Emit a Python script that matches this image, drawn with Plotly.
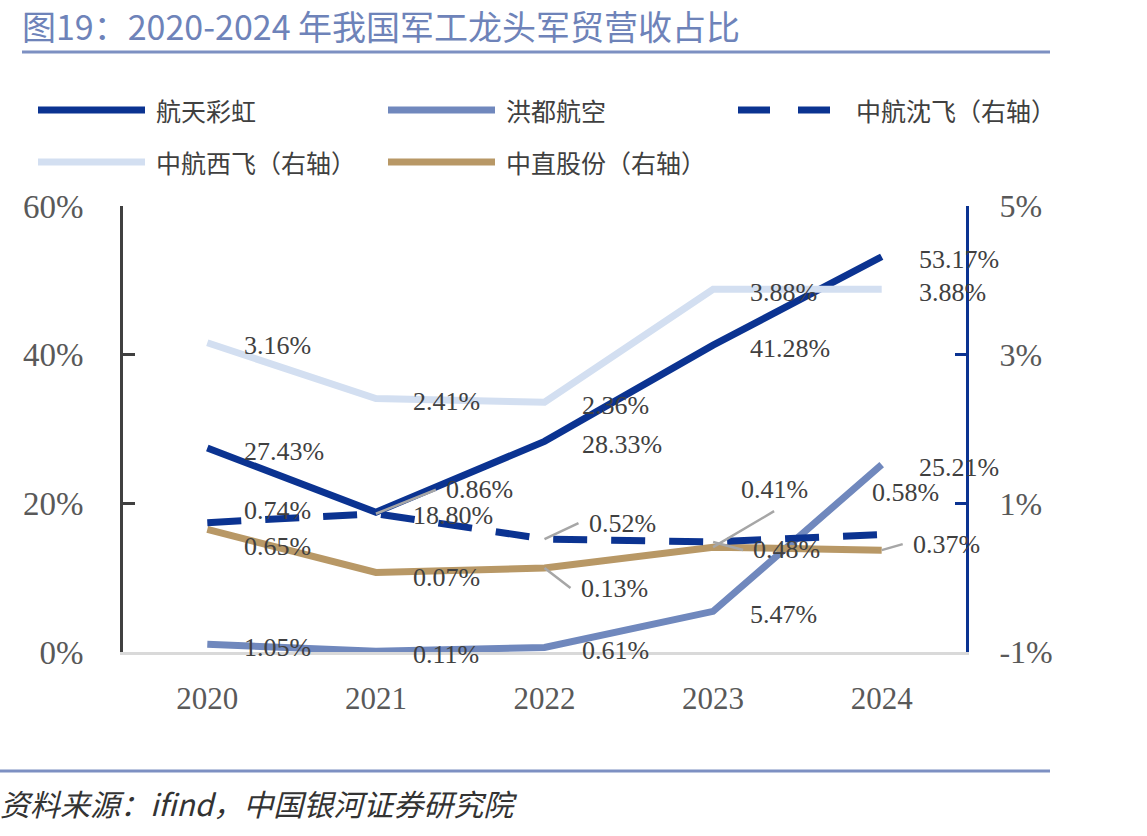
import plotly.graph_objects as go

# ---------------- data ----------------
years = ["2020", "2021", "2022", "2023", "2024"]
htch = [27.43, 18.80, 28.33, 41.28, 53.17]      # 航天彩虹 (left)
hdhk = [1.05, 0.11, 0.61, 5.47, 25.21]          # 洪都航空 (left)
zhsf = [0.74, 0.86, 0.52, 0.48, 0.58]           # 中航沈飞 (right)
zhxf = [3.16, 2.41, 2.36, 3.88, 3.88]           # 中航西飞 (right)
zzgf = [0.65, 0.07, 0.13, 0.41, 0.37]           # 中直股份 (right)
left_ticks = [0, 20, 40, 60]
right_ticks = [-1, 1, 3, 5]

# ---------------- style ----------------
W, H = 1147, 836
L, R, T, B = 123, 966, 206, 652
C_HT = "#0b3391"
C_HD = "#7088bd"
C_XF = "#d3dff1"
C_ZZ = "#b89866"
TXT = "#404040"
AX = "#595959"
FONT = "Liberation Serif, Noto Sans CJK SC, serif"
CJK = "Noto Sans CJK SC, sans-serif"
LW = 7


def px(x):
    return (x - L) / (R - L)


def py(y):
    return (B - y) / (B - T)


fig = go.Figure()
series = [
    ("航天彩虹", htch, "y", C_HT, "solid"),
    ("洪都航空", hdhk, "y", C_HD, "solid"),
    ("中航西飞（右轴）", zhxf, "y2", C_XF, "solid"),
    ("中直股份（右轴）", zzgf, "y2", C_ZZ, "solid"),
    ("中航沈飞（右轴）", zhsf, "y2", C_HT, "34px,24px"),
]
order = [2, 3, 0, 4, 1]
for i in order:
    name, vals, yax, col, dash = series[i]
    fig.add_trace(go.Scatter(
        x=years, y=vals, name=name, yaxis=yax, mode="lines",
        line=dict(color=col, width=LW, dash=dash),
        showlegend=False, hoverinfo="skip"))

# ---------------- data labels ----------------
lab_font = dict(family=FONT, size=26, color=TXT)


def plain(vals, yref, shifts):
    for i, (v, (dx, dy)) in enumerate(zip(vals, shifts)):
        if dx is None:
            continue
        fig.add_annotation(x=i, xref="x", y=v, yref=yref, text=f"{v:.2f}%",
                           showarrow=False, xanchor="left", yanchor="middle",
                           xshift=dx, yshift=dy, font=lab_font)


def leader(i, v, yref, ax, ay, pad=8, xanchor="left", yanchor="middle"):
    fig.add_annotation(x=i, xref="x", y=v, yref=yref, text=f"{v:.2f}%",
                       showarrow=True, arrowhead=0, arrowwidth=2.5,
                       arrowcolor="#a6a6a6", ax=ax, ay=ay, borderpad=pad,
                       xanchor=xanchor, yanchor=yanchor, font=lab_font)


std = [(35, -3)] * 5
plain(htch, "y", std)
plain(hdhk, "y", std)
plain(zhxf, "y2", std)
plain(zhsf, "y2", [(35, 12), (None, 0), (None, 0), (None, 0), (-12, 42)])
plain(zzgf, "y2", [(35, -17), (35, -5), (None, 0), (None, 0), (None, 0)])
leader(1, zhsf[1], "y2", 60, -24, pad=9)
leader(2, zhsf[2], "y2", 34, -16, pad=9)
leader(3, zhsf[3], "y2", 30, 8, pad=9)
leader(2, zzgf[2], "y2", 26, 20, pad=9)
leader(3, zzgf[3], "y2", 61, -36, pad=6, xanchor="center", yanchor="bottom")
leader(4, zzgf[4], "y2", 21, -6, pad=9)

# ---------------- legend (manual) ----------------
leg = [
    ("航天彩虹", C_HT, "solid", 38, 110),
    ("洪都航空", C_HD, "solid", 388, 110),
    ("中航沈飞（右轴）", C_HT, "dash", 738, 110),
    ("中航西飞（右轴）", C_XF, "solid", 38, 162),
    ("中直股份（右轴）", C_ZZ, "solid", 388, 162),
]
for name, col, dash, x0, y0 in leg:
    if dash == "dash":
        for s in (0, 60):
            fig.add_shape(type="line", xref="paper", yref="paper",
                          x0=px(x0 + s), x1=px(x0 + s + 32), y0=py(y0), y1=py(y0),
                          line=dict(color=col, width=LW))
    else:
        fig.add_shape(type="line", xref="paper", yref="paper",
                      x0=px(x0), x1=px(x0 + 107), y0=py(y0), y1=py(y0),
                      line=dict(color=col, width=LW))
    fig.add_annotation(xref="paper", yref="paper", x=px(x0 + 116), y=py(y0),
                       text=name, showarrow=False, xanchor="left", yanchor="middle",
                       font=dict(family=CJK, size=25, color=TXT))

# ---------------- title / source ----------------
fig.add_annotation(xref="paper", yref="paper", x=px(20), y=py(25),
                   text="图19：2020-2024 年我国军工龙头军贸营收占比", showarrow=False,
                   xanchor="left", yanchor="middle",
                   font=dict(family=CJK, size=34, color="#6e83b9"))
fig.add_shape(type="line", xref="paper", yref="paper", x0=px(22), x1=px(1050),
              y0=py(52), y1=py(52), line=dict(color="#7d90c2", width=3))
fig.add_shape(type="line", xref="paper", yref="paper", x0=px(0), x1=px(1050),
              y0=py(771), y1=py(771), line=dict(color="#7d90c2", width=3))
fig.add_annotation(xref="paper", yref="paper", x=px(-2), y=py(803),
                   text="<i>资料来源：ifind，中国银河证券研究院</i>", showarrow=False,
                   xanchor="left", yanchor="middle",
                   font=dict(family=CJK, size=30, color="#333333"))

# ---------------- axes ----------------
fig.update_layout(
    width=W, height=H,
    margin=dict(l=L, r=W - R, t=T, b=H - B, pad=0),
    paper_bgcolor="white", plot_bgcolor="white",
    showlegend=False,
    xaxis=dict(type="category", range=[-0.5, 4.5], showgrid=False, zeroline=False,
               showline=True, linecolor="#d9d9d9", linewidth=3, ticks="",
               tickfont=dict(family=FONT, size=31, color=AX), ticklabelstandoff=17),
    yaxis=dict(range=[0, 60], tickvals=left_ticks,
               ticktext=[f"{v}%" for v in left_ticks], showgrid=False, zeroline=False,
               showline=True, linecolor="#404040", linewidth=3,
               ticks="inside", ticklen=12, tickwidth=3, tickcolor="#404040",
               tickfont=dict(family=FONT, size=33, color=AX), ticklabelstandoff=30),
    yaxis2=dict(range=[-1, 5], overlaying="y", side="right", tickvals=right_ticks,
                ticktext=[f"{v}%" for v in right_ticks], showgrid=False, zeroline=False,
                showline=True, linecolor=C_HT, linewidth=3,
                ticks="inside", ticklen=11, tickwidth=3, tickcolor=C_HT,
                tickfont=dict(family=FONT, size=32, color=AX), ticklabelstandoff=24),
)

fig.write_html("out.html")
